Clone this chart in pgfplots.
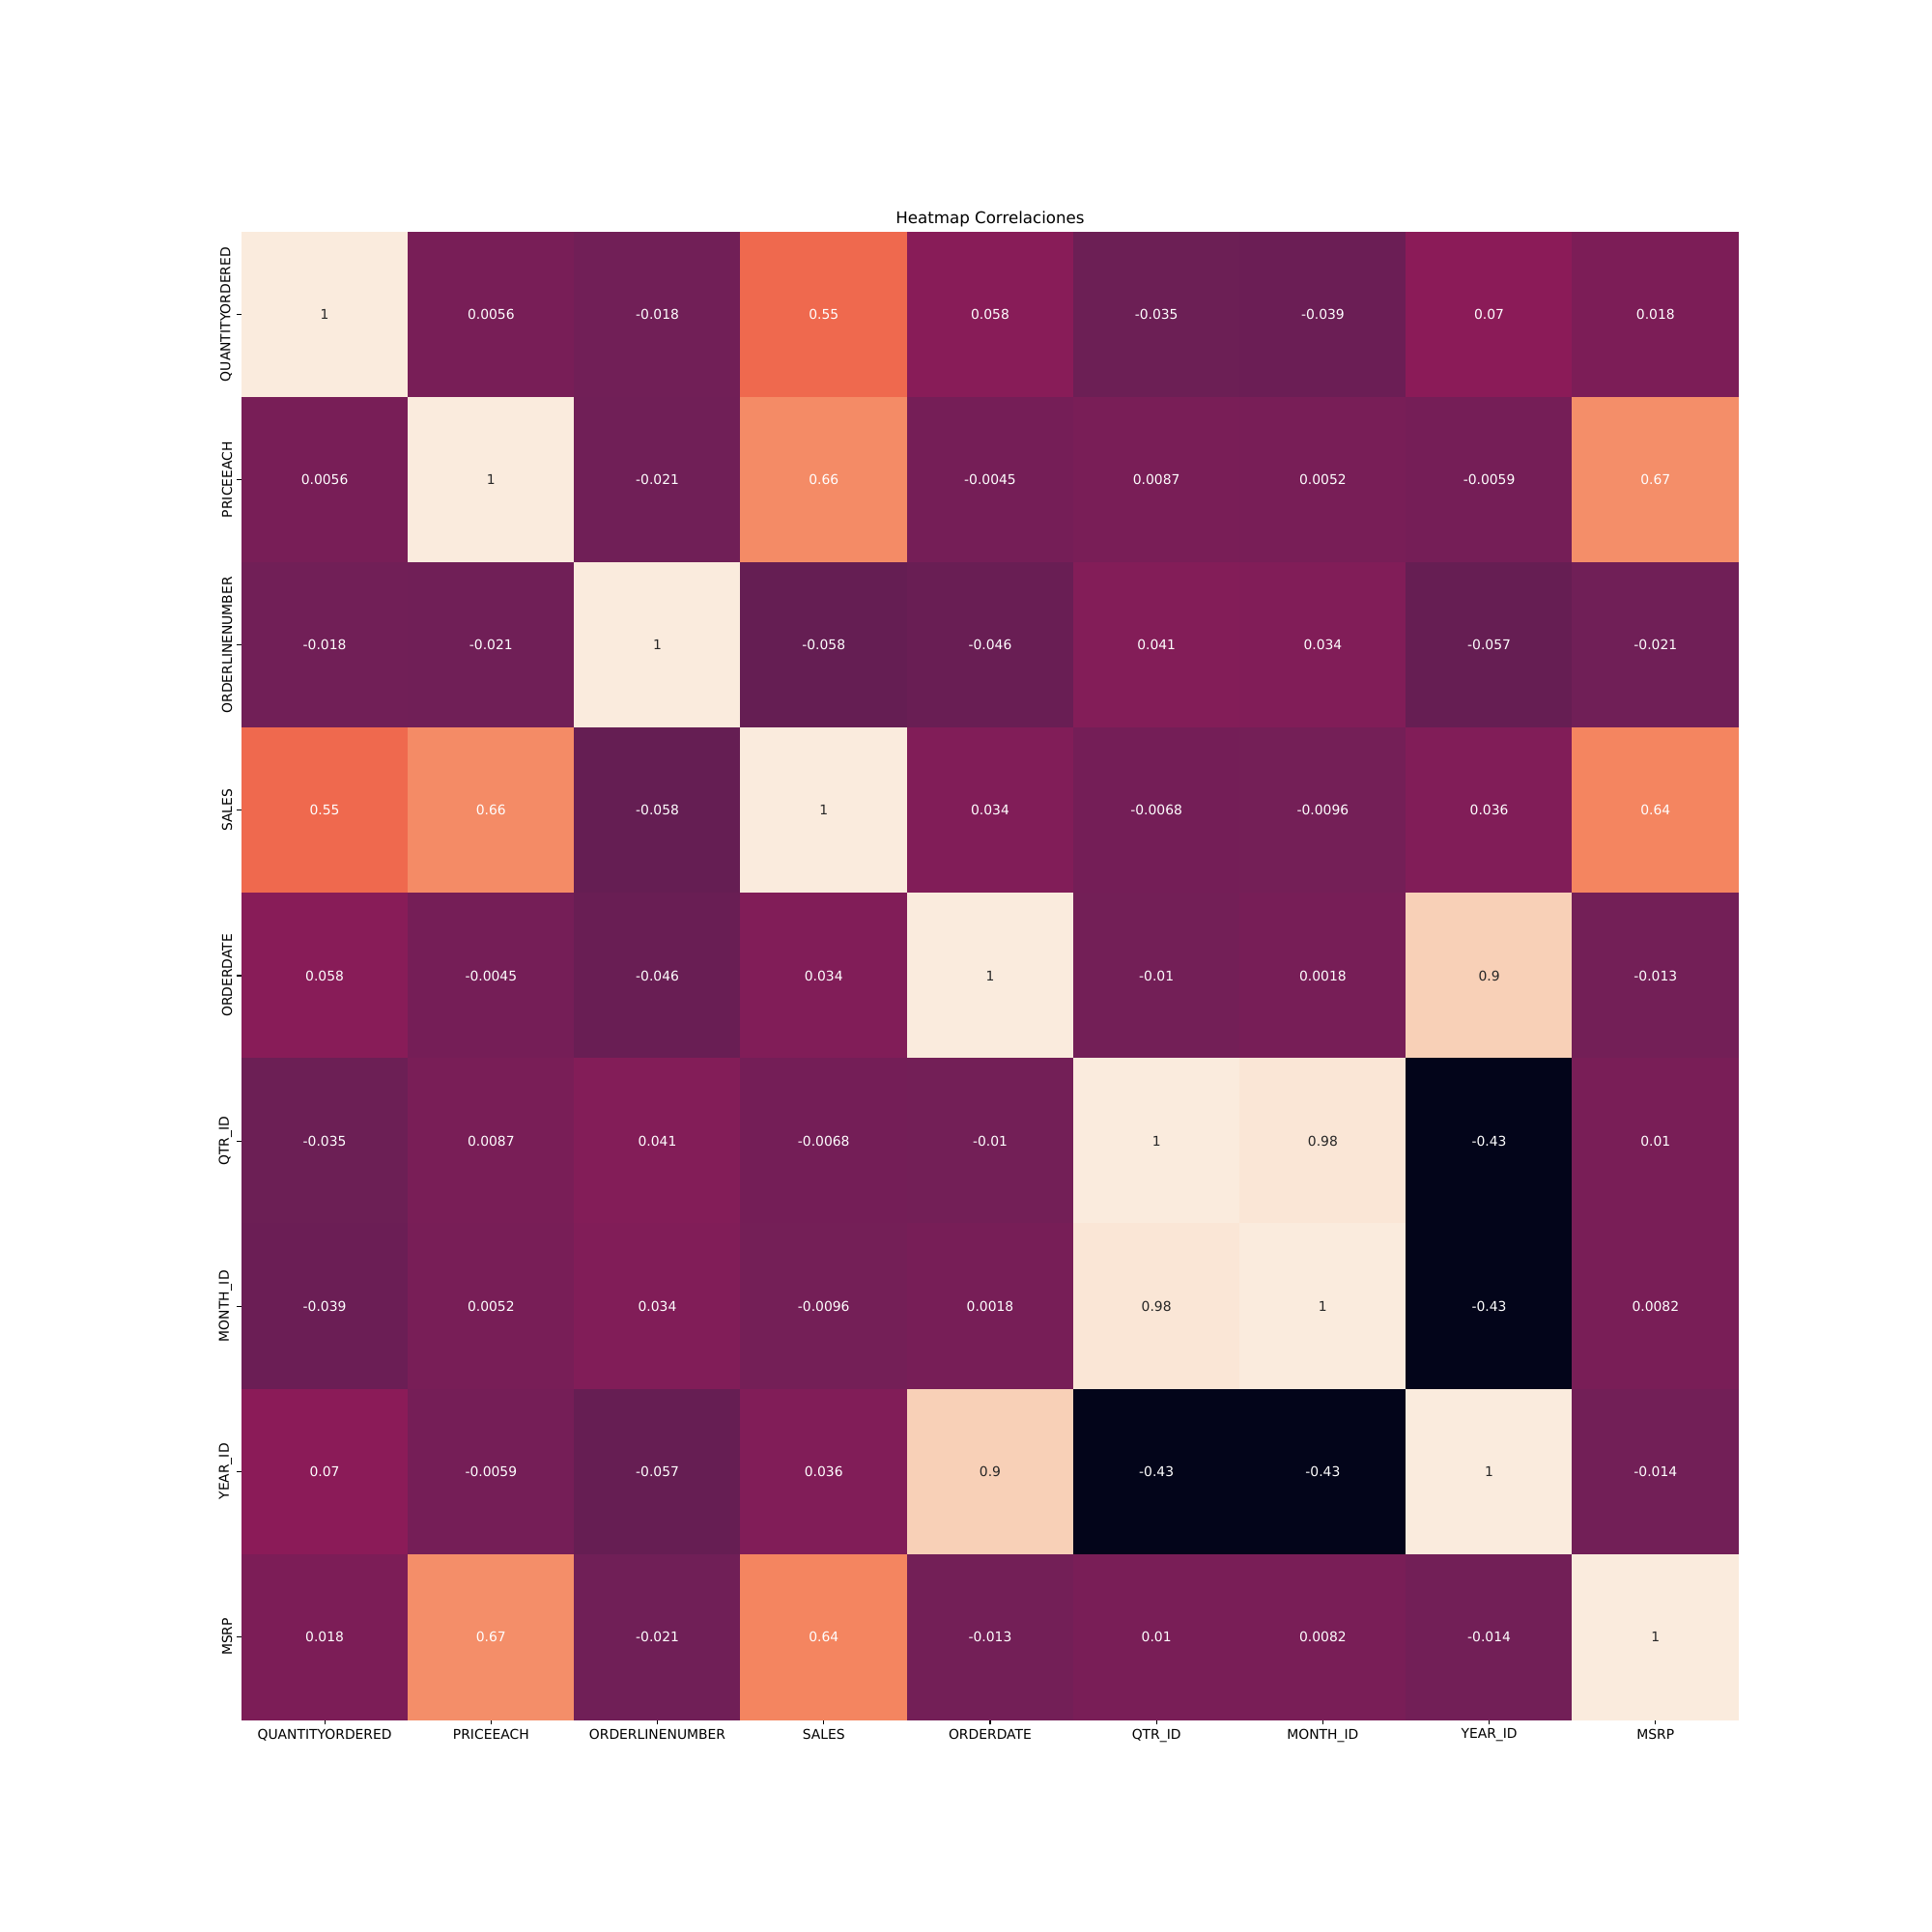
\documentclass[border=0pt]{standalone}
\usepackage{fontspec}
\setmainfont{DejaVu Sans}
\usepackage{pgfplots}
\pgfplotsset{compat=1.18}
\definecolor{darktext}{HTML}{262626}

% correlation matrix: x = column, y = row, c = value, tc = 1 for dark text
\pgfplotstableread{
x y c tc
0 0 1 1
1 0 0.0056 0
2 0 -0.018 0
3 0 0.55 0
4 0 0.058 0
5 0 -0.035 0
6 0 -0.039 0
7 0 0.07 0
8 0 0.018 0
0 1 0.0056 0
1 1 1 1
2 1 -0.021 0
3 1 0.66 0
4 1 -0.0045 0
5 1 0.0087 0
6 1 0.0052 0
7 1 -0.0059 0
8 1 0.67 0
0 2 -0.018 0
1 2 -0.021 0
2 2 1 1
3 2 -0.058 0
4 2 -0.046 0
5 2 0.041 0
6 2 0.034 0
7 2 -0.057 0
8 2 -0.021 0
0 3 0.55 0
1 3 0.66 0
2 3 -0.058 0
3 3 1 1
4 3 0.034 0
5 3 -0.0068 0
6 3 -0.0096 0
7 3 0.036 0
8 3 0.64 0
0 4 0.058 0
1 4 -0.0045 0
2 4 -0.046 0
3 4 0.034 0
4 4 1 1
5 4 -0.01 0
6 4 0.0018 0
7 4 0.9 1
8 4 -0.013 0
0 5 -0.035 0
1 5 0.0087 0
2 5 0.041 0
3 5 -0.0068 0
4 5 -0.01 0
5 5 1 1
6 5 0.98 1
7 5 -0.43 0
8 5 0.01 0
0 6 -0.039 0
1 6 0.0052 0
2 6 0.034 0
3 6 -0.0096 0
4 6 0.0018 0
5 6 0.98 1
6 6 1 1
7 6 -0.43 0
8 6 0.0082 0
0 7 0.07 0
1 7 -0.0059 0
2 7 -0.057 0
3 7 0.036 0
4 7 0.9 1
5 7 -0.43 0
6 7 -0.43 0
7 7 1 1
8 7 -0.014 0
0 8 0.018 0
1 8 0.67 0
2 8 -0.021 0
3 8 0.64 0
4 8 -0.013 0
5 8 0.01 0
6 8 0.0082 0
7 8 -0.014 0
8 8 1 1
}\corr

\begin{document}
\begin{tikzpicture}
\useasboundingbox (0,0) rectangle (1440pt,1440pt);
\begin{axis}[
  at={(180pt,158.4pt)}, anchor=south west,
  scale only axis, width=1116pt, height=1108.8pt,
  font=\fontsize{10}{12}\selectfont,
  colormap={rocket}{rgb255=(3,5,26) rgb255=(53,25,62) rgb255=(112,31,87)
    rgb255=(173,23,89) rgb255=(225,51,66) rgb255=(243,118,81)
    rgb255=(246,180,143) rgb255=(250,235,221)},
  point meta min=-0.43, point meta max=1,
  xmin=-0.5, xmax=8.5, ymin=-0.5, ymax=8.5,
  y dir=reverse,
  axis line style={draw=none},
  tick align=outside, xtick pos=bottom, ytick pos=left,
  major tick length=3.5pt,
  tick style={black, line width=0.8pt},
  xtick={0,...,8}, ytick={0,...,8},
  xticklabels={QUANTITYORDERED,PRICEEACH,ORDERLINENUMBER,SALES,ORDERDATE,QTR\_ID,MONTH\_ID,YEAR\_ID,MSRP},
  yticklabels={QUANTITYORDERED,PRICEEACH,ORDERLINENUMBER,SALES,ORDERDATE,QTR\_ID,MONTH\_ID,YEAR\_ID,MSRP},
  yticklabel style={rotate=90, anchor=south},
  title={Heatmap Correlaciones},
  title style={font=\fontsize{12}{14}\selectfont, yshift=-6pt},
  nodes near coords,
  every node near coord/.append style={anchor=center, font=\fontsize{10}{12}\selectfont},
]
\addplot[matrix plot*, mesh/cols=9, point meta=explicit, shader=flat corner, nodes near coords=]
  table[x=x, y=y, meta=c] {\corr};
% white annotations
\addplot[only marks, mark=none, point meta=explicit symbolic,
  restrict expr to domain={\thisrow{tc}}{-0.5:0.5},
  every node near coord/.append style={text=white}]
  table[x=x, y=y, meta=c] {\corr};
% dark annotations
\addplot[only marks, mark=none, point meta=explicit symbolic,
  restrict expr to domain={\thisrow{tc}}{0.5:1.5},
  every node near coord/.append style={text=darktext}]
  table[x=x, y=y, meta=c] {\corr};
\end{axis}
\end{tikzpicture}
\end{document}
